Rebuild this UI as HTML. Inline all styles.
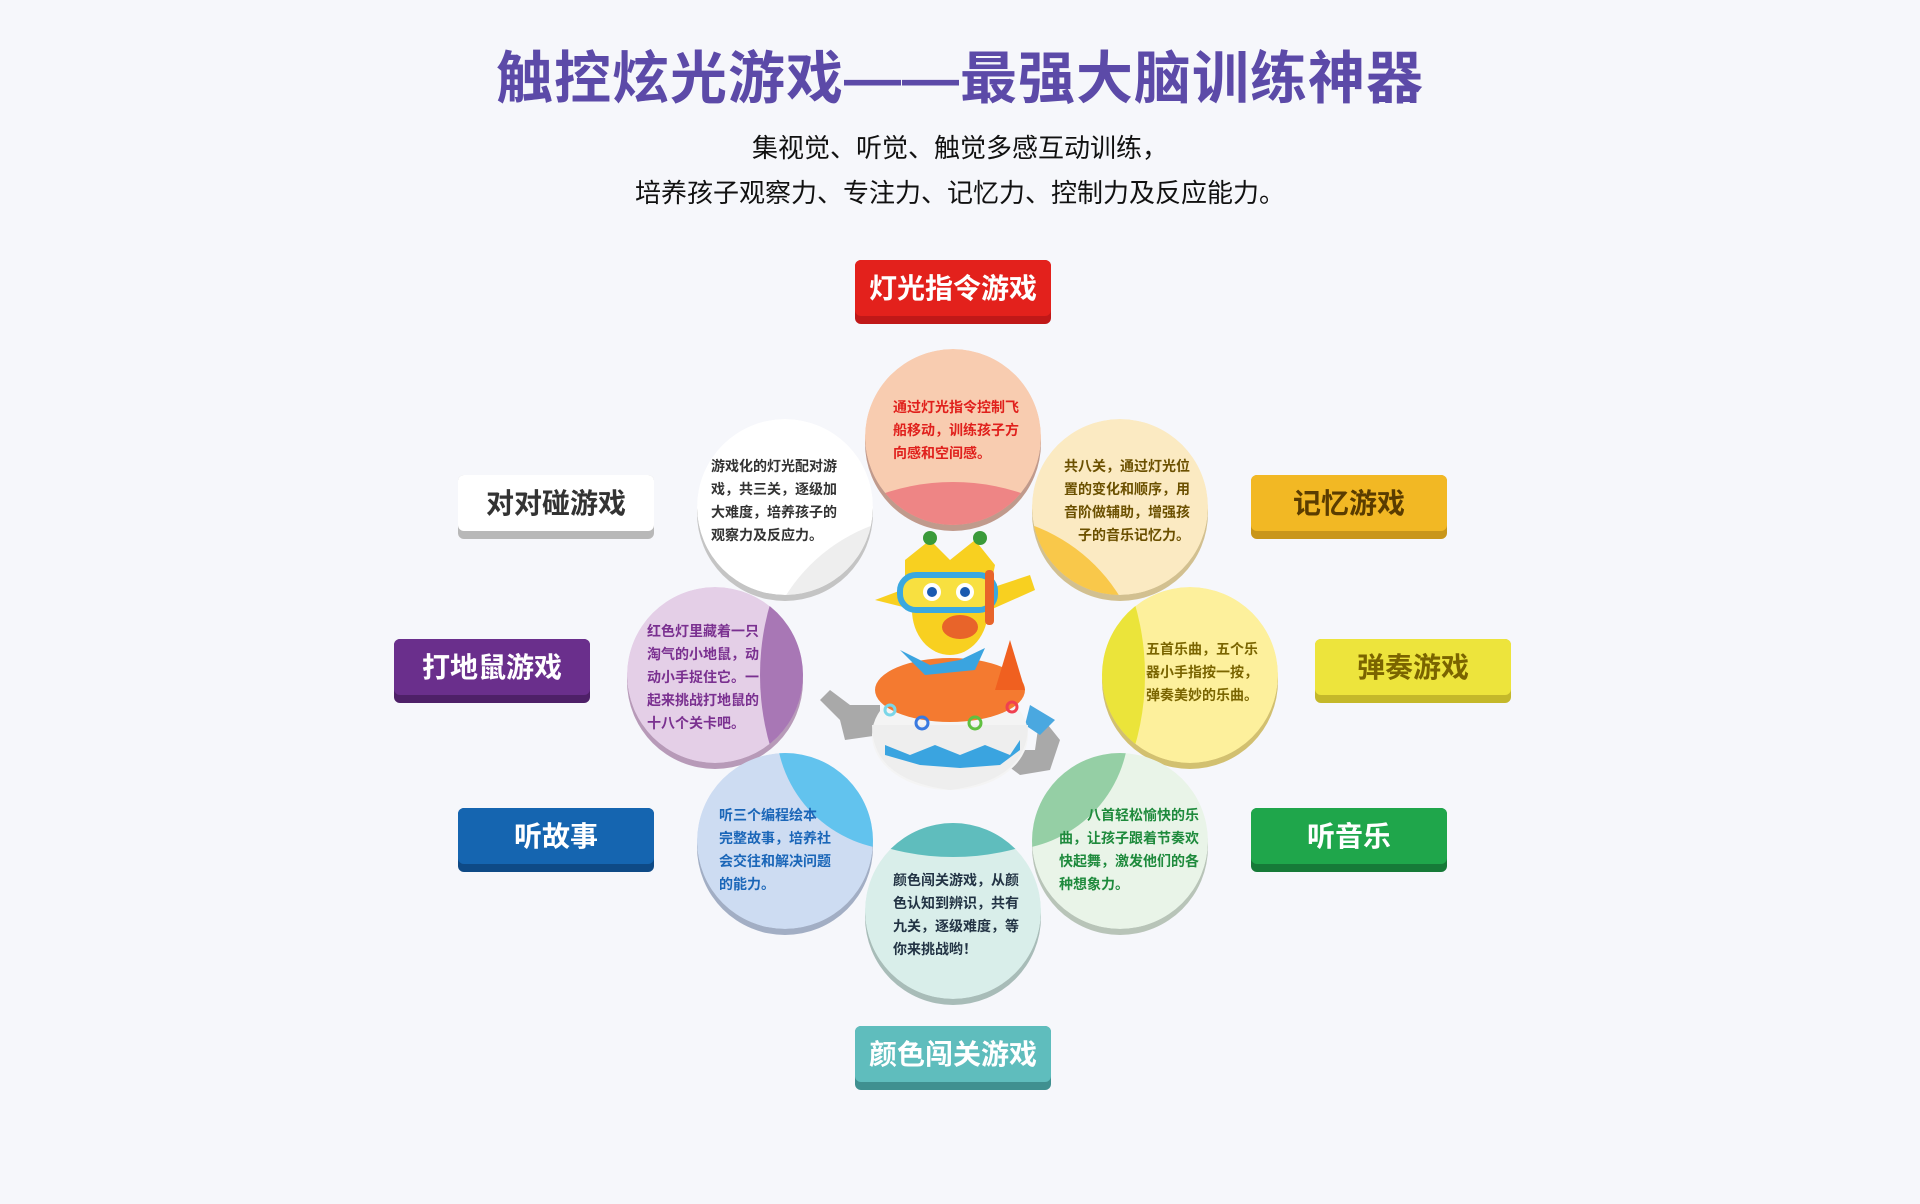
<!DOCTYPE html>
<html><head><meta charset="utf-8">
<style>
html,body{margin:0;padding:0;}
body{width:1920px;height:1204px;background:#f6f7fb;position:relative;overflow:hidden;font-family:"Liberation Sans","Noto Sans CJK SC",sans-serif;}
.t{position:absolute;left:0;width:1920px;text-align:center;}
.lab{position:absolute;width:196px;height:64px;border-radius:6px;font-weight:bold;font-size:28px;text-align:center;line-height:58px;box-sizing:border-box;}
.ct{position:absolute;font-size:14px;line-height:23px;font-weight:bold;white-space:nowrap;}
</style></head><body>
<div class="t" style="top:33px;font-size:57px;font-weight:bold;color:#5c4aa8;letter-spacing:1px;">触控炫光游戏——最强大脑训练神器</div>
<div class="t" style="top:128px;font-size:26px;color:#111;">集视觉、听觉、触觉多感互动训练，</div>
<div class="t" style="top:173px;font-size:26px;color:#111;">培养孩子观察力、专注力、记忆力、控制力及反应能力。</div>

<svg width="1920" height="1204" style="position:absolute;left:0;top:0">
<defs>
<clipPath id="c"><circle cx="0" cy="0" r="88"/></clipPath>
</defs>
<g transform="translate(953,437)"><circle cy="6" r="88" fill="#c09a8c"/><g clip-path="url(#c)"><circle r="88" fill="#f8ccb0"/><circle cy="260" r="215" fill="#ee8585"/></g></g>
<g transform="translate(785,507)"><circle cy="6" r="88" fill="#c4c4c4"/><g clip-path="url(#c)"><circle r="88" fill="#ffffff"/><circle cx="146" cy="179" r="171" fill="#eeeeee"/></g></g>
<g transform="translate(1120,507)"><circle cy="6" r="88" fill="#d2c090"/><g clip-path="url(#c)"><circle r="88" fill="#fbeac2"/><circle cx="-146" cy="179" r="171" fill="#f9c84a"/></g></g>
<g transform="translate(715,675)"><circle cy="6" r="88" fill="#b79ab8"/><g clip-path="url(#c)"><circle r="88" fill="#e4cfe7"/><circle cx="300" r="255" fill="#a877b5"/></g></g>
<g transform="translate(1190,675)"><circle cy="6" r="88" fill="#d2c070"/><g clip-path="url(#c)"><circle r="88" fill="#fdf09c"/><circle cx="-300" r="255" fill="#ebe43a"/></g></g>
<g transform="translate(785,841)"><circle cy="6" r="88" fill="#a2aec4"/><g clip-path="url(#c)"><circle r="88" fill="#cddcf2"/><circle cx="116" cy="-116" r="125" fill="#62c3ee"/></g></g>
<g transform="translate(1120,841)"><circle cy="6" r="88" fill="#b8c4b8"/><g clip-path="url(#c)"><circle r="88" fill="#e9f4e8"/><circle cx="-116" cy="-116" r="125" fill="#95cfa5"/></g></g>
<g transform="translate(953,911)"><circle cy="6" r="88" fill="#a8bcb8"/><g clip-path="url(#c)"><circle r="88" fill="#d9eeea"/><circle cy="-300" r="246" fill="#5fbdbd"/></g></g>

<g>
<path d="M840 720 L820 700 L830 690 L850 705 L880 705 L880 735 L845 740Z" fill="#a9a9a9"/>
<path d="M1040 715 L1060 740 L1050 770 L1020 775 L1000 760 L1015 750 L1035 750Z" fill="#a9a9a9"/>
<path d="M1030 705 L1055 720 L1040 735 L1025 725Z" fill="#4aa8e0"/>
<ellipse cx="950" cy="735" rx="78" ry="55" fill="#f4f4f4"/>
<path d="M872 725 Q872 780 950 790 Q1028 780 1028 725Z" fill="#eeeeee"/>
<path d="M885 745 L910 755 L935 745 L960 755 L985 745 L1010 755 L1020 740 L1020 750 L1000 765 L960 768 L920 765 L885 755Z" fill="#3aa4e0"/>
<ellipse cx="950" cy="690" rx="75" ry="32" fill="#f47a30"/>
<path d="M1010 640 L1025 690 L995 690Z" fill="#f06020"/>
<circle cx="890" cy="710" r="5" fill="none" stroke="#7ad6e8" stroke-width="3"/>
<circle cx="922" cy="723" r="6" fill="none" stroke="#3a7ae0" stroke-width="3"/>
<circle cx="975" cy="723" r="6" fill="none" stroke="#60c040" stroke-width="3"/>
<circle cx="1012" cy="707" r="5" fill="none" stroke="#f04050" stroke-width="3"/>
<path d="M900 650 L930 665 L960 660 L985 648 L975 670 L925 675Z" fill="#3aa4e0"/>
<ellipse cx="950" cy="610" rx="38" ry="45" fill="#f8d020"/>
<path d="M875 600 L915 585 L915 610Z" fill="#f8d020"/>
<path d="M985 590 L1030 575 L1035 590 L990 610Z" fill="#f8d020"/>
<path d="M905 560 L930 540 L950 560 L975 540 L995 565 L990 590 L905 590Z" fill="#f8d020"/>
<circle cx="930" cy="538" r="7" fill="#3a9a3a"/><circle cx="980" cy="538" r="7" fill="#3a9a3a"/>
<rect x="900" y="575" width="95" height="35" rx="16" fill="#f8e040" stroke="#3aa8e0" stroke-width="6"/>
<circle cx="932" cy="592" r="9" fill="#fff"/><circle cx="932" cy="592" r="5" fill="#1a5ab0"/>
<circle cx="965" cy="592" r="9" fill="#fff"/><circle cx="965" cy="592" r="5" fill="#1a5ab0"/>
<rect x="985" y="570" width="9" height="55" rx="4" fill="#e8642a"/>
<ellipse cx="960" cy="627" rx="18" ry="12" fill="#e8642a"/>
</g>
</svg>

<div class="lab" style="left:855px;top:260px;background:#c01818;"><div style="height:56px;background:#e3211c;border-radius:6px;color:#fff;">灯光指令游戏</div></div>
<div class="lab" style="left:458px;top:475px;background:#b8b8b8;"><div style="height:56px;background:#fff;border-radius:6px;color:#333;">对对碰游戏</div></div>
<div class="lab" style="left:1251px;top:475px;background:#c9961a;"><div style="height:56px;background:#f2b824;border-radius:6px;color:#5a3c00;">记忆游戏</div></div>
<div class="lab" style="left:394px;top:639px;background:#4e2068;"><div style="height:56px;background:#6a2f8c;border-radius:6px;color:#fff;">打地鼠游戏</div></div>
<div class="lab" style="left:1315px;top:639px;background:#c4b82a;"><div style="height:56px;background:#ede43c;border-radius:6px;color:#7a6400;">弹奏游戏</div></div>
<div class="lab" style="left:458px;top:808px;background:#0e4a86;"><div style="height:56px;background:#1565b0;border-radius:6px;color:#fff;">听故事</div></div>
<div class="lab" style="left:1251px;top:808px;background:#167a38;"><div style="height:56px;background:#1fa64b;border-radius:6px;color:#fff;">听音乐</div></div>
<div class="lab" style="left:855px;top:1026px;background:#3f9090;"><div style="height:56px;background:#5fbdbd;border-radius:6px;color:#fff;">颜色闯关游戏</div></div>

<div class="ct" style="left:893px;top:396px;color:#e0201c;">通过灯光指令控制飞<br>船移动，训练孩子方<br>向感和空间感。</div>
<div class="ct" style="left:711px;top:455px;color:#333;">游戏化的灯光配对游<br>戏，共三关，逐级加<br>大难度，培养孩子的<br>观察力及反应力。</div>
<div class="ct" style="left:1064px;top:455px;color:#6b5000;text-align:right;">共八关，通过灯光位<br>置的变化和顺序，用<br>音阶做辅助，增强孩<br>子的音乐记忆力。</div>
<div class="ct" style="left:647px;top:620px;color:#7a3090;">红色灯里藏着一只<br>淘气的小地鼠，动<br>动小手捉住它。一<br>起来挑战打地鼠的<br>十八个关卡吧。</div>
<div class="ct" style="left:1146px;top:638px;color:#7a6500;">五首乐曲，五个乐<br>器小手指按一按，<br>弹奏美妙的乐曲。</div>
<div class="ct" style="left:719px;top:804px;color:#1a66b8;">听三个编程绘本<br>完整故事，培养社<br>会交往和解决问题<br>的能力。</div>
<div class="ct" style="left:1059px;top:804px;color:#1e8a3c;">　　八首轻松愉快的乐<br>曲，让孩子跟着节奏欢<br>快起舞，激发他们的各<br>种想象力。</div>
<div class="ct" style="left:893px;top:869px;color:#234;">颜色闯关游戏，从颜<br>色认知到辨识，共有<br>九关，逐级难度，等<br>你来挑战哟！</div>
</body></html>
